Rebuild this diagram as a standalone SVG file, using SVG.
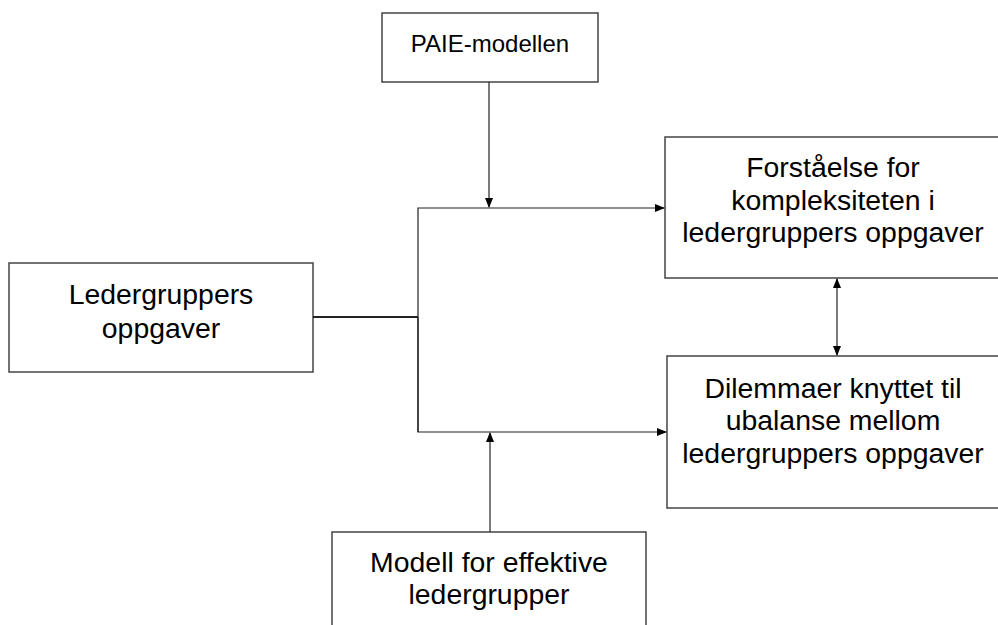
<svg xmlns="http://www.w3.org/2000/svg" width="998" height="625" viewBox="0 0 998 625">
<style>
.box{fill:#fff;stroke:#444;stroke-width:1.5}
.t{font-family:"Liberation Sans",Arial,sans-serif;font-size:28.4px;fill:#000;text-anchor:middle}
.ts{font-family:"Liberation Sans",Arial,sans-serif;font-size:24px;fill:#000;text-anchor:middle}
.c{fill:none;stroke:#222;stroke-width:1.2}
</style>
<defs>
<marker id="ah" markerWidth="10" markerHeight="8" refX="9" refY="4" orient="auto-start-reverse" markerUnits="userSpaceOnUse">
<path d="M0,0 L10,4 L0,8 Z" fill="#000"/>
</marker>
</defs>
<rect width="998" height="625" fill="#fff"/>
<g id="paie">
<rect class="box" x="382" y="13" width="216" height="69"/>
<text class="ts" x="490" y="52">PAIE-modellen</text>
</g>
<g id="ledergruppers">
<rect class="box" x="9" y="263" width="304" height="109"/>
<text class="t" x="161" y="304">Ledergruppers</text>
<text class="t" x="161" y="338">oppgaver</text>
</g>
<g id="forstaelse">
<rect class="box" x="665" y="137" width="340" height="141"/>
<text class="t" x="833" y="177">Forståelse for</text>
<text class="t" x="833" y="210">kompleksiteten i</text>
<text class="t" x="833" y="242">ledergruppers oppgaver</text>
</g>
<g id="dilemmaer">
<rect class="box" x="667" y="356" width="340" height="152"/>
<text class="t" x="833" y="398">Dilemmaer knyttet til</text>
<text class="t" x="833" y="430">ubalanse mellom</text>
<text class="t" x="833" y="463">ledergruppers oppgaver</text>
</g>
<g id="modell">
<rect class="box" x="332" y="532" width="314" height="110"/>
<text class="t" x="489" y="572">Modell for effektive</text>
<text class="t" x="489" y="604">ledergrupper</text>
</g>
<g id="connectors">
<line class="c" x1="313" y1="317" x2="418" y2="317" style="stroke-width:2"/>
<polyline class="c" points="418,432 418,208 664,208" marker-end="url(#ah)"/>
<polyline class="c" points="418,317 418,432 666,432" marker-end="url(#ah)"/>
<line class="c" x1="489" y1="82" x2="489" y2="207" marker-end="url(#ah)"/>
<line class="c" x1="490" y1="532" x2="490" y2="433" marker-end="url(#ah)"/>
<line class="c" x1="837" y1="279" x2="837" y2="355" marker-start="url(#ah)" marker-end="url(#ah)"/>
</g>
</svg>
